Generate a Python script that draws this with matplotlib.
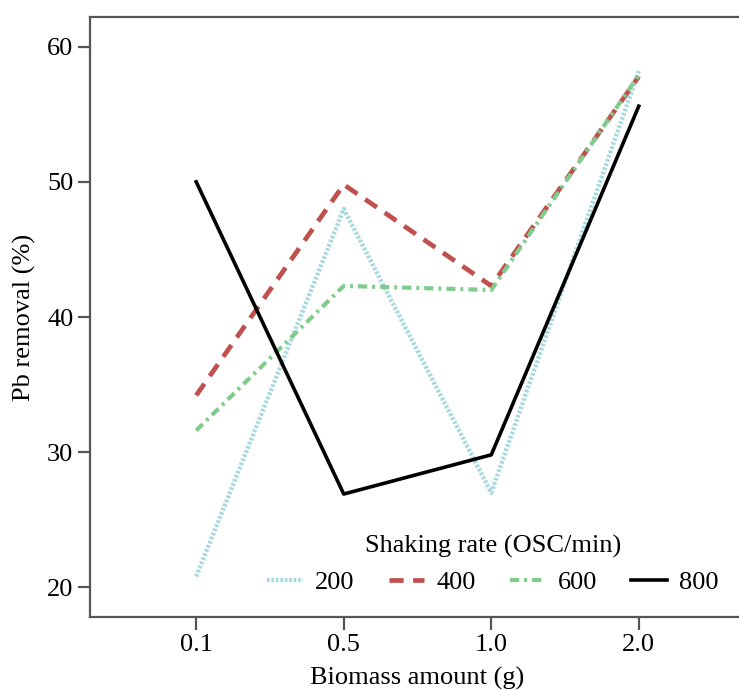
import matplotlib
matplotlib.use("Agg")
import matplotlib.pyplot as plt
import numpy as np

# Data
biomass = ["0.1", "0.5", "1.0", "2.0"]
rates = ["200", "400", "600", "800"]
pb_200 = [20.8, 48.0, 27.0, 58.2]
pb_400 = [34.2, 49.8, 42.3, 57.8]
pb_600 = [31.6, 42.3, 42.0, 57.9]
pb_800 = [50.0, 26.9, 29.8, 55.6]

plt.rcParams['font.family'] = ['Liberation Serif', 'DejaVu Serif']

fig = plt.figure(figsize=(7.39, 6.90), dpi=100)
# axes right edge runs just past the image edge, as in the reference
ax = fig.add_axes([90 / 739, 73 / 690, 655 / 739, 600 / 690])

x = np.arange(len(biomass))
ax.plot(x, pb_200, color="#a9d9df", lw=3.2, ls=(0, (0.6, 0.4)), label=rates[0])
ax.plot(x, pb_400, color="#c0504d", lw=3.4, ls=(0, (3.0, 2.0)), label=rates[1])
ax.plot(x, pb_600, color="#80cc8c", lw=3.0, ls=(0, (2.2, 1.2, 0.7, 1.2)), label=rates[2])
ax.plot(x, pb_800, color="black", lw=2.6, ls="-", label=rates[3])

ax.set_xlim(-0.72, 3.72)
ax.set_ylim(17.8, 62.2)
ax.set_xticks(x)
ax.set_xticklabels(biomass)
ax.set_yticks([20, 30, 40, 50, 60])

for side in ["left", "bottom", "top", "right"]:
    ax.spines[side].set_color("#555555")
    ax.spines[side].set_linewidth(1.6)
ax.tick_params(axis="both", length=9, width=1.6, color="#555555",
               labelsize=19, pad=3)

ax.set_xlabel("Biomass amount (g)", fontsize=19, labelpad=8)
ax.set_ylabel("Pb removal (%)", fontsize=19, labelpad=8)

leg = ax.legend(title="Shaking rate (OSC/min)", ncol=4, frameon=False,
                fontsize=19, title_fontsize=19, loc="lower center",
                bbox_to_anchor=(0.615, 0.02), borderaxespad=0.0,
                handlelength=1.35, columnspacing=1.3, handletextpad=0.45)

fig.savefig("out.png", dpi=100)
